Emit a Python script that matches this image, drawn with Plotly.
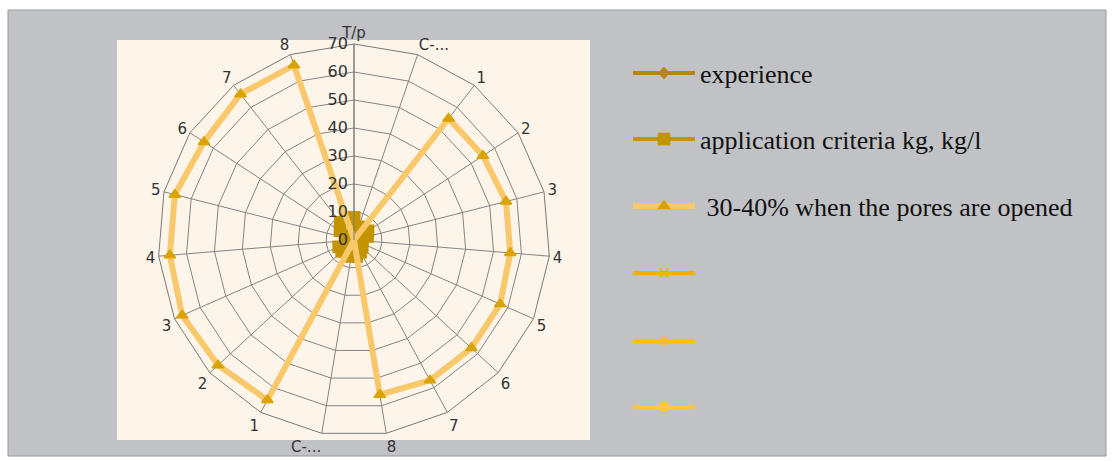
import plotly.graph_objects as go

W, H = 1113, 461

# ---- data ----
cat_ids = ["T/p", "C-a", "1a", "2a", "3a", "4a", "5a", "6a", "7a", "8a",
           "C-b", "1b", "2b", "3b", "4b", "5b", "6b", "7b", "8b"]
cat_labels = ["T/p", "C-...", "1", "2", "3", "4", "5", "6", "7", "8",
              "C-...", "1", "2", "3", "4", "5", "6", "7", "8"]

experience = [3, 3, 2, 3, 3, 2, 2, 2, 3, 3, 3, 3, 3, 3, 2, 2, 3, 3, 3]
application = [8, 5, 3, 6, 5, 3, 3, 4, 5, 6, 6, 5, 6, 6, 3, 3, 6, 8, 8]
pores = [0, 0, 55, 55, 56, 56, 57, 57, 57, 56, 0, 65, 66, 67, 66, 66, 64, 66, 66]
series4 = [0] * 19
series5 = [0] * 19
series6 = [0] * 19

names = ["experience", "application criteria kg, kg/l",
         "\u00a030-40% when the pores are opened", " ", " ", " "]
values = [experience, application, pores, series4, series5, series6]
line_colors = ["#b8860b", "#c49400", "#f9c86a", "#f0b000", "#ffc000", "#ffc83c"]
marker_colors = ["#b8860b", "#c49400", "#d9a300", "#f0b000", "#ffc000", "#ffc83c"]
symbols = ["diamond", "square", "triangle-up", "x-thin-open", "asterisk-open", "circle"]
marker_sizes = [8, 11, 10, 9, 9, 9]
line_widths = [4, 4, 6, 4, 4, 4]
legend_y_px = [73, 139, 206, 273, 341, 407]

fig = go.Figure()
closed_ids = cat_ids + [cat_ids[0]]
for i in range(6):
    vals = values[i] + [values[i][0]]
    lg = "legend" if i == 0 else f"legend{i + 1}"
    fig.add_trace(go.Scatterpolar(
        r=vals, theta=closed_ids, mode="lines+markers", name=names[i],
        line=dict(color=line_colors[i], width=line_widths[i]),
        marker=dict(symbol=symbols[i], size=marker_sizes[i], color=marker_colors[i],
                    line=dict(color=marker_colors[i], width=1.5)),
        legend=lg, showlegend=True,
    ))

cx, cy, R = 354, 240, 196
layout_legends = {}
for i in range(6):
    key = "legend" if i == 0 else f"legend{i + 1}"
    layout_legends[key] = dict(
        x=628 / W, y=1 - legend_y_px[i] / H, xanchor="left", yanchor="middle",
        bgcolor="rgba(0,0,0,0)", font=dict(family="Liberation Serif", size=26, color="#111111"),
        itemwidth=62,
    )

fig.update_layout(
    width=W, height=H, margin=dict(l=0, r=0, t=0, b=0),
    paper_bgcolor="#ffffff",
    shapes=[
        dict(type="rect", xref="paper", yref="paper", x0=8 / W, x1=1106 / W,
             y0=1 - 456 / H, y1=1 - 10 / H, fillcolor="#c1c2c5",
             line=dict(color="#9a9a9a", width=1), layer="below"),
        dict(type="rect", xref="paper", yref="paper", x0=117 / W, x1=590 / W,
             y0=1 - 440 / H, y1=1 - 40 / H, fillcolor="#fdf5e9",
             line=dict(width=0), layer="below"),
    ],
    polar=dict(
        domain=dict(x=[(cx - R) / W, (cx + R) / W], y=[1 - (cy + R) / H, 1 - (cy - R) / H]),
        bgcolor="#fdf5e9",
        gridshape="linear",
        radialaxis=dict(range=[0, 70], dtick=10, angle=90, side="counterclockwise",
                        tickangle=90,
                        showline=True, linecolor="#7a7a7a", gridcolor="#858585",
                        tickfont=dict(family="DejaVu Sans", size=16, color="#333333"),
                        ticks=""),
        angularaxis=dict(rotation=90, direction="clockwise", type="category",
                         categoryarray=cat_ids, tickmode="array", tickvals=cat_ids,
                         ticktext=cat_labels, linecolor="#7a7a7a", gridcolor="#858585",
                         tickfont=dict(family="DejaVu Sans", size=15, color="#333333"),
                         ticks=""),
    ),
    **layout_legends,
)

fig.write_html("out.html")
